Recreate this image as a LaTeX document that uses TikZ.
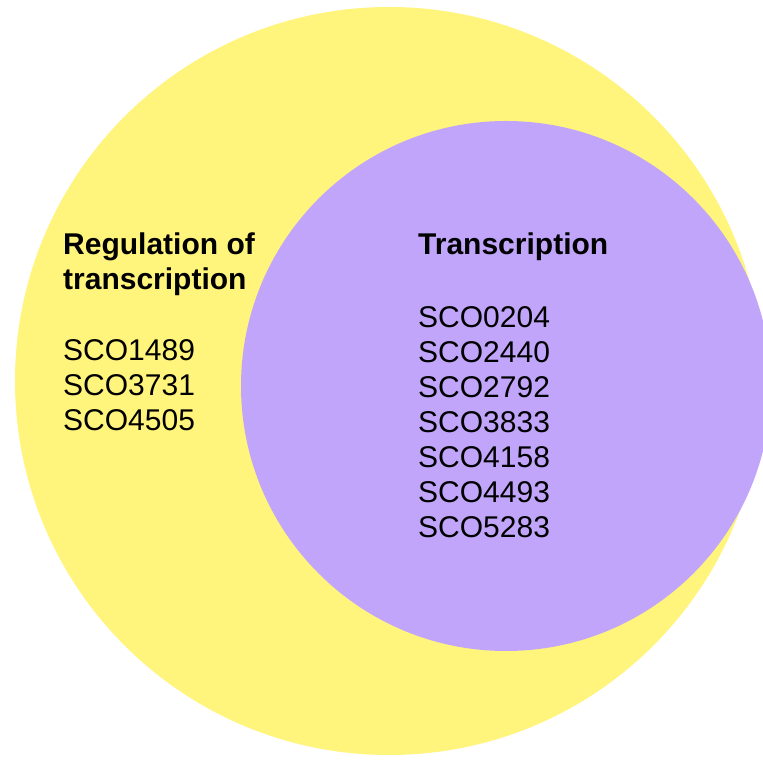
\documentclass[tikz,border=0pt]{standalone}
\usepackage{fontspec}
\setmainfont{Liberation Sans}
\definecolor{vyellow}{HTML}{FFF47C}
\definecolor{vpurple}{HTML}{C1A5FB}
\begin{document}
\begin{tikzpicture}[x=1pt,y=1pt,
  lbl/.style={anchor=base west,inner sep=0pt,font=\fontsize{30}{35}\selectfont},
  hdr/.style={lbl,font=\fontsize{30}{35}\selectfont\bfseries}]
\useasboundingbox (0,0) rectangle (763,760);
\clip (0,0) rectangle (763,760);
\fill[white] (0,0) rectangle (763,760);
\fill[vyellow] (389,379) circle[radius=374];
\fill[vpurple] (506,374) circle[radius=265];
% left set
\node[hdr] (lh1) at (63,505) {Regulation of};
\node[hdr] (lh2) at (63,470) {transcription};
\node[lbl] (l1) at (63,399) {SCO1489};
\node[lbl] (l2) at (63,364) {SCO3731};
\node[lbl] (l3) at (63,329) {SCO4505};
% right set
\node[hdr] (rh) at (418,505) {Transcription};
\node[lbl] (r1) at (418,432) {SCO0204};
\node[lbl] (r2) at (418,397) {SCO2440};
\node[lbl] (r3) at (418,362) {SCO2792};
\node[lbl] (r4) at (418,327) {SCO3833};
\node[lbl] (r5) at (418,292) {SCO4158};
\node[lbl] (r6) at (418,257) {SCO4493};
\node[lbl] (r7) at (418,222) {SCO5283};
\end{tikzpicture}
\end{document}
